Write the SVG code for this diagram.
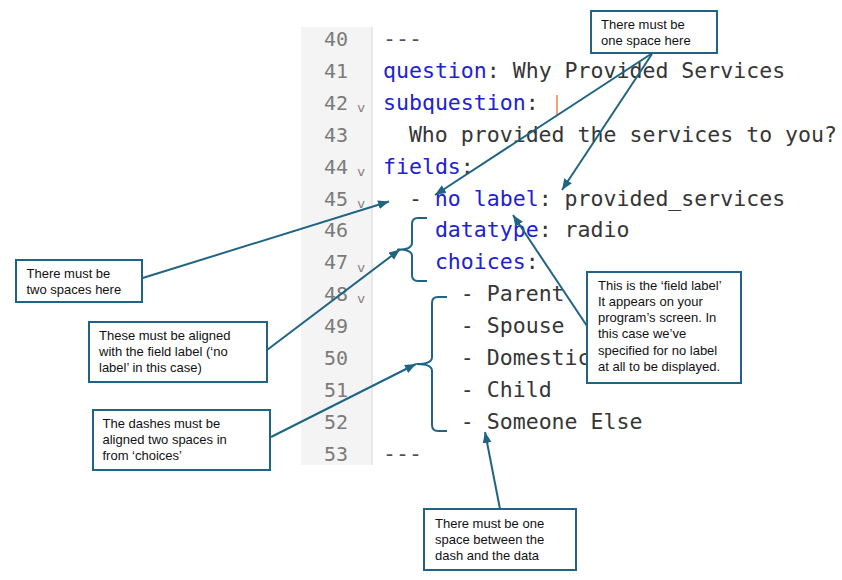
<svg xmlns="http://www.w3.org/2000/svg" width="842" height="580" viewBox="0 0 842 580">
<style>
.ln{font-family:"DejaVu Sans Mono","Liberation Mono",monospace;font-size:20px;fill:#7b7b7b;text-anchor:end}
.fd{font-family:"DejaVu Sans",sans-serif;font-size:13px;fill:#808080;text-anchor:middle}
.code{font-family:"DejaVu Sans Mono","Liberation Mono",monospace;font-size:21.55px;fill:#363636}
.k{fill:#2121d4}
.dim{fill:#505050}
.box{fill:#ffffff;stroke:#1f6583;stroke-width:2}
.lbl{font-family:"Liberation Sans",Arial,sans-serif;font-size:13px;fill:#111111}
.con{fill:none;stroke:#1f6583;stroke-width:2}
.brace{fill:none;stroke:#1f6583;stroke-width:2;stroke-linejoin:round}
</style>
<defs>
<marker id="ah" markerUnits="userSpaceOnUse" markerWidth="12" markerHeight="10" refX="11" refY="4.5" orient="auto">
<path d="M0,0 L11,4.5 L0,9 z" fill="#1f6583"/>
</marker>
</defs>
<rect width="842" height="580" fill="#ffffff"/>
<g id="editor">
<rect x="301" y="27" width="71" height="438" fill="#f4f4f4"/>
<line x1="372" y1="27" x2="372" y2="465" stroke="#e2e2e2" stroke-width="1.5"/>
<g id="line-numbers">
<text class="ln" x="348" y="46">40</text>
<text class="ln" x="348" y="77.9">41</text>
<text class="ln" x="348" y="109.8">42</text>
<text class="ln" x="348" y="141.7">43</text>
<text class="ln" x="348" y="173.6">44</text>
<text class="ln" x="348" y="205.5">45</text>
<text class="ln" x="348" y="237.4">46</text>
<text class="ln" x="348" y="269.3">47</text>
<text class="ln" x="348" y="301.2">48</text>
<text class="ln" x="348" y="333.1">49</text>
<text class="ln" x="348" y="365">50</text>
<text class="ln" x="348" y="396.9">51</text>
<text class="ln" x="348" y="428.8">52</text>
<text class="ln" x="348" y="460.7">53</text>
<text class="fd" x="361" y="112">v</text>
<text class="fd" x="361" y="175.8">v</text>
<text class="fd" x="361" y="207.7">v</text>
<text class="fd" x="361" y="271.5">v</text>
<text class="fd" x="361" y="303.4">v</text>
</g>
<g id="code">
<text class="code dim" x="383" y="46">---</text>
<text class="code" x="383" y="77.9"><tspan class="k">question</tspan>: Why Provided Services</text>
<text class="code" x="383" y="109.8"><tspan class="k">subquestion</tspan>:</text>
<text class="code" x="408.9" y="141.7">Who provided the services to you?</text>
<text class="code" x="383" y="173.6"><tspan class="k">fields</tspan>:</text>
<text class="code" x="408.9" y="205.5">- <tspan class="k">no label</tspan>: provided_services</text>
<text class="code" x="434.9" y="237.4"><tspan class="k">datatype</tspan>: radio</text>
<text class="code" x="434.9" y="269.3"><tspan class="k">choices</tspan>:</text>
<text class="code" x="460.8" y="301.2">- Parent</text>
<text class="code" x="460.8" y="333.1">- Spouse</text>
<text class="code" x="460.8" y="365">- Domestic</text>
<text class="code" x="460.8" y="396.9">- Child</text>
<text class="code" x="460.8" y="428.8">- Someone Else</text>
<text class="code dim" x="383" y="460.7">---</text>
</g>
<line x1="557" y1="95" x2="557" y2="115" stroke="#f2a27a" stroke-width="2"/>
</g>
<g id="braces">
<path class="brace" d="M427,218 H418 Q412,218 412,224 V243 Q412,249.5 398,249.5 Q412,249.5 412,256 V275 Q412,281 418,281 H427"/>
<path class="brace" d="M447,297 H438 Q432,297 432,303 V357 Q432,364 417,364 Q432,364 432,371 V425 Q432,431 438,431 H447"/>
</g>
<g id="connectors">
<line class="con" x1="651" y1="54" x2="435" y2="195" marker-end="url(#ah)"/>
<line class="con" x1="652" y1="54" x2="562" y2="190" marker-end="url(#ah)"/>
<line class="con" x1="133" y1="281" x2="389" y2="201.5" marker-end="url(#ah)"/>
<line class="con" x1="267" y1="350" x2="400" y2="249.5" marker-end="url(#ah)"/>
<line class="con" x1="271" y1="437" x2="416" y2="364" marker-end="url(#ah)"/>
<line class="con" x1="587" y1="326" x2="513" y2="215" marker-end="url(#ah)"/>
<line class="con" x1="500" y1="509" x2="485" y2="432" marker-end="url(#ah)"/>
</g>
<g id="note-one-space">
<rect class="box" x="591" y="11" width="126" height="42"/>
<text class="lbl" x="601" y="29">There must be</text>
<text class="lbl" x="601" y="45">one space here</text>
</g>
<g id="note-two-spaces">
<rect class="box" x="16" y="260" width="126" height="42"/>
<text class="lbl" x="26.5" y="278">There must be</text>
<text class="lbl" x="26.5" y="294">two spaces here</text>
</g>
<g id="note-aligned-field">
<rect class="box" x="89" y="322" width="178" height="60"/>
<text class="lbl" x="99" y="340">These must be aligned</text>
<text class="lbl" x="99" y="356">with the field label (‘no</text>
<text class="lbl" x="99" y="372">label’ in this case)</text>
</g>
<g id="note-dashes">
<rect class="box" x="93" y="410" width="177" height="60"/>
<text class="lbl" x="102.5" y="428">The dashes must be</text>
<text class="lbl" x="102.5" y="444">aligned two spaces in</text>
<text class="lbl" x="102.5" y="460">from ‘choices’</text>
</g>
<g id="note-field-label">
<rect class="box" x="587" y="272" width="154" height="111"/>
<text class="lbl" x="598" y="289.5">This is the ‘field label’</text>
<text class="lbl" x="598" y="305.8">It appears on your</text>
<text class="lbl" x="598" y="322.1">program’s screen. In</text>
<text class="lbl" x="598" y="338.4">this case we’ve</text>
<text class="lbl" x="598" y="354.7">specified for no label</text>
<text class="lbl" x="598" y="371">at all to be displayed.</text>
</g>
<g id="note-one-space-dash">
<rect class="box" x="424" y="509" width="152" height="61"/>
<text class="lbl" x="435" y="528">There must be one</text>
<text class="lbl" x="435" y="544">space between the</text>
<text class="lbl" x="435" y="560">dash and the data</text>
</g>
</svg>
